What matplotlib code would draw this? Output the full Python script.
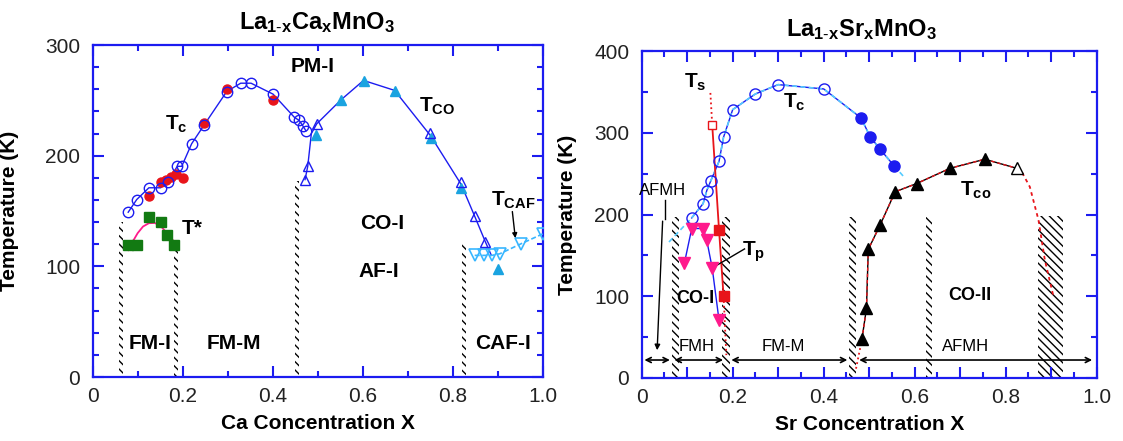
import matplotlib
matplotlib.use('Agg')
import matplotlib.pyplot as plt
from matplotlib.patches import Rectangle
from matplotlib.ticker import MultipleLocator, FixedLocator, FixedFormatter

plt.rcParams['font.family'] = ['Liberation Sans', 'DejaVu Sans']
plt.rcParams['mathtext.fontset'] = 'custom'
plt.rcParams['mathtext.rm'] = 'Liberation Sans'
plt.rcParams['mathtext.bf'] = 'Liberation Sans:bold'
plt.rcParams['mathtext.it'] = 'Liberation Sans:italic'
plt.rcParams['hatch.linewidth'] = 1.0

# ---------------- La1-xCaxMnO3 ----------------
ca_tc_open_x = [0.079, 0.098, 0.125, 0.151, 0.167, 0.188, 0.198, 0.220, 0.248, 0.298, 0.329, 0.352, 0.401, 0.448, 0.459, 0.467, 0.474]
ca_tc_open_t = [148.9, 160.4, 171.0, 171.0, 176.0, 190.4, 190.4, 210.8, 227.9, 258.0, 265.5, 265.5, 255.6, 234.8, 231.8, 227.0, 222.5]
ca_tc_fill_x = [0.125, 0.151, 0.163, 0.175, 0.185, 0.200, 0.248, 0.298, 0.401]
ca_tc_fill_t = [164.0, 176.0, 178.4, 180.8, 183.5, 180.0, 229.4, 260.0, 250.5]
ca_tco_line_x = [0.472, 0.478, 0.486, 0.498, 0.552, 0.602, 0.671, 0.751, 0.819, 0.849, 0.873, 0.886]
ca_tco_line_t = [178.4, 190.4, 220.0, 228.8, 250.5, 268.0, 259.0, 218.0, 174.0, 145.3, 121.9, 110.0]
ca_tco_open_x = [0.472, 0.478, 0.498, 0.750, 0.819, 0.849, 0.873]
ca_tco_open_t = [178.4, 190.4, 228.8, 220.4, 176.0, 145.3, 121.9]
ca_tco_fill_x = [0.496, 0.552, 0.602, 0.671, 0.752, 0.819, 0.901]
ca_tco_fill_t = [219.0, 250.5, 267.9, 258.9, 215.9, 171.0, 97.9]
ca_tcaf_x = [0.849, 0.869, 0.887, 0.905, 0.952, 1.000]
ca_tcaf_t = [109.9, 109.9, 109.9, 111.4, 120.4, 129.3]
ca_tstar_x = [0.079, 0.098, 0.125, 0.151, 0.165, 0.181]
ca_tstar_t = [119.0, 119.0, 144.5, 140.0, 128.5, 119.7]
ca_tstar_curve_x = [0.079, 0.090, 0.100, 0.112, 0.125, 0.138, 0.150, 0.163, 0.175, 0.187]
ca_tstar_curve_t = [114.6, 123.0, 130.0, 136.0, 139.0, 139.2, 137.0, 131.0, 125.0, 120.0]
ca_bounds_x = [0.064, 0.185, 0.455, 0.825]
ca_bounds_top = [140.0, 117.5, 177.0, 120.5]

# ---------------- La1-xSrxMnO3 ----------------
sr_tc_open_x = [0.110, 0.135, 0.143, 0.152, 0.170, 0.180, 0.200, 0.250, 0.300, 0.400]
sr_tc_open_t = [196.0, 213.5, 229.4, 241.6, 265.3, 295.0, 328.6, 347.8, 359.2, 353.9]
sr_tc_fill_x = [0.482, 0.502, 0.524, 0.555]
sr_tc_fill_t = [318.4, 295.5, 280.0, 259.6]
sr_tc_ext_lo_x = [0.060, 0.110]
sr_tc_ext_lo_t = [166.5, 196.0]
sr_tc_ext_hi_x = [0.555, 0.579]
sr_tc_ext_hi_t = [259.6, 244.5]
sr_ts_x = [0.151, 0.155, 0.170, 0.180, 0.186]
sr_ts_t = [349.0, 310.0, 181.0, 100.0, 28.0]
sr_tp_x = [0.094, 0.110, 0.135, 0.143, 0.155, 0.170]
sr_tp_t = [141.0, 183.0, 183.0, 168.6, 134.7, 70.6]
sr_tco_x = [0.484, 0.494, 0.498, 0.524, 0.557, 0.604, 0.678, 0.754]
sr_tco_t = [47.3, 85.3, 157.5, 187.3, 228.0, 238.0, 256.8, 267.8]
sr_tco_open_x = [0.824]
sr_tco_open_t = [256.8]
sr_tail_x = [0.824, 0.835, 0.853, 0.872, 0.886, 0.905]
sr_tail_t = [256.8, 252.6, 234.0, 193.5, 144.5, 99.6]
sr_tail_lo_x = [0.471, 0.484]
sr_tail_lo_t = [11.4, 47.3]
sr_bounds_x0 = [0.066, 0.176, 0.456, 0.624]
sr_bounds_x1 = [0.083, 0.194, 0.472, 0.638]
sr_wide_x = [0.870, 0.926]
sr_arrows = [(0.006, 0.062), (0.072, 0.179), (0.197, 0.452), (0.478, 0.990)]

BLUE = '#1c1cf0'
RED = '#e8141a'
GREEN = '#127a12'
CYAN = '#1aa3e0'
LBLUE = '#38b6ff'
PINK = '#ff1a8c'

fig = plt.figure(figsize=(11.23, 4.41), dpi=100)
axL = fig.add_axes([0.0825, 0.1451, 0.4007, 0.7528])
axR = fig.add_axes([0.5714, 0.1429, 0.4052, 0.7408])


def style_axes(ax, xmaj, xmin, ymaj, ymin, xlabels, ylabels, ymax):
    ax.set_xlim(0, 1)
    ax.set_ylim(0, ymax)
    ax.xaxis.set_major_locator(FixedLocator(xmaj))
    ax.xaxis.set_major_formatter(FixedFormatter(xlabels))
    ax.xaxis.set_minor_locator(MultipleLocator(xmin))
    ax.yaxis.set_major_locator(FixedLocator(ymaj))
    ax.yaxis.set_major_formatter(FixedFormatter(ylabels))
    ax.yaxis.set_minor_locator(MultipleLocator(ymin))
    for s in ax.spines.values():
        s.set_color(BLUE)
        s.set_linewidth(1.6)
    ax.tick_params(which='both', direction='in', top=True, right=True,
                   color=BLUE, width=1.5, labelsize=15, labelcolor='#222222')
    ax.tick_params(which='major', length=8)
    ax.tick_params(which='minor', length=4.5)
    ax.tick_params(axis='x', which='both', pad=7)
    ax.tick_params(axis='y', which='both', pad=9)


style_axes(axL, [0, 0.2, 0.4, 0.6, 0.8, 1.0], 0.1, [0, 100, 200, 300], 20,
           ['0', '0.2', '0.4', '0.6', '0.8', '1.0'], ['0', '100', '200', '300'], 300)
style_axes(axR, [0, 0.1, 0.2, 0.3, 0.4, 0.5, 0.6, 0.7, 0.8, 0.9, 1.0], 0.05,
           [0, 100, 200, 300, 400], 50,
           ['0', '', '0.2', '', '0.4', '', '0.6', '', '0.8', '', '1.0'],
           ['0', '100', '200', '300', '400'], 400)

# ---------- left panel ----------
ax = axL
for bx, top in zip(ca_bounds_x, ca_bounds_top):
    ax.add_patch(Rectangle((bx - 0.0045, 0), 0.009, top, facecolor='none',
                           edgecolor='black', hatch='\\\\\\\\', linewidth=0, zorder=1))
ax.plot(ca_tstar_curve_x, ca_tstar_curve_t, color=PINK, lw=1.3, zorder=2)
ax.plot(ca_tstar_x, ca_tstar_t, 's', color=GREEN, ms=6.5, zorder=3)
ax.plot(ca_tc_open_x, ca_tc_open_t, '-', color=BLUE, lw=1.0, zorder=2)
ax.plot(ca_tc_fill_x, ca_tc_fill_t, 'o', color=RED, ms=6.5, zorder=3)
ax.plot(ca_tc_open_x, ca_tc_open_t, 'o', mfc='none', mec=BLUE, ms=7.5, mew=1.0, zorder=4)
ax.plot(ca_tco_line_x, ca_tco_line_t, '-', color=BLUE, lw=1.0, zorder=2)
ax.plot(ca_tco_fill_x, ca_tco_fill_t, '^', color=CYAN, ms=7, zorder=3)
ax.plot(ca_tco_open_x, ca_tco_open_t, '^', mfc='none', mec=BLUE, ms=7.5, mew=1.0, zorder=4)
ax.plot(ca_tcaf_x, ca_tcaf_t, 'v', ls='--', color=LBLUE, mfc='none', mec=LBLUE,
        ms=8, mew=1.2, lw=1.2, dashes=(3, 1.5), zorder=3)

tkw = dict(ha='center', va='center', fontsize=15, fontweight='bold', color='black')
ax.text(0.488, 280.5, 'PM-I', **tkw)
ax.text(0.186, 228, r'$\mathbf{T}_{\mathbf{c}}$', **tkw)
ax.text(0.765, 245, r'$\mathbf{T}_{\mathbf{CO}}$', **tkw)
ax.text(0.935, 160, r'$\mathbf{T}_{\mathbf{CAF}}$', **tkw)
ax.annotate('', xy=(0.940, 123), xytext=(0.932, 152),
            arrowprops=dict(arrowstyle='-|>', color='black', lw=1.0, mutation_scale=7))
ax.text(0.222, 134, 'T*', **tkw)
ax.text(0.643, 138.3, 'CO-I', **tkw)
ax.text(0.635, 94.9, 'AF-I', **tkw)
ax.text(0.127, 30.5, 'FM-I', **tkw)
ax.text(0.313, 30.5, 'FM-M', **tkw)
ax.text(0.913, 30.5, 'CAF-I', **tkw)
ax.set_xlabel('Ca Concentration X', fontsize=15, fontweight='bold', labelpad=6)
ax.set_ylabel('Temperature (K)', fontsize=15, fontweight='bold')
ax.yaxis.set_label_coords(-0.164, 0.5)
fig.text(0.2826, 0.950, r'La$_{\mathbf{1\text{-}x}}$Ca$_{\mathbf{x}}$MnO$_{\mathbf{3}}$',
         ha='center', va='center', fontsize=17, fontweight='bold')

# ---------- right panel ----------
ax = axR
for x0, x1 in zip(sr_bounds_x0, sr_bounds_x1):
    ax.add_patch(Rectangle((x0, 0), x1 - x0, 197, facecolor='none',
                           edgecolor='black', hatch='\\\\\\\\', linewidth=0, zorder=1))
ax.add_patch(Rectangle((sr_wide_x[0], 0), sr_wide_x[1] - sr_wide_x[0], 198, facecolor='none',
                       edgecolor='black', hatch='\\\\\\\\', linewidth=0, zorder=1))
for a, b in sr_arrows:
    ax.annotate('', xy=(b, 22), xytext=(a, 22),
                arrowprops=dict(arrowstyle='<->', color='black', lw=1.2,
                                mutation_scale=9, shrinkA=0, shrinkB=0))
# Tc
tc_x = sr_tc_open_x + sr_tc_fill_x
tc_t = sr_tc_open_t + sr_tc_fill_t
ax.plot(tc_x, tc_t, '-', color=BLUE, lw=1.0, zorder=2)
ax.plot(tc_x, tc_t, '--', color='#55ccff', lw=1.2, dashes=(3, 2), zorder=2)
ax.plot(sr_tc_ext_lo_x, sr_tc_ext_lo_t, '--', color='#55ccff', lw=1.2, dashes=(3, 2), zorder=2)
ax.plot(sr_tc_ext_hi_x, sr_tc_ext_hi_t, '--', color='#55ccff', lw=1.2, dashes=(3, 2), zorder=2)
ax.plot(sr_tc_open_x, sr_tc_open_t, 'o', mfc='none', mec=BLUE, ms=8, mew=1.0, zorder=4)
ax.plot(sr_tc_fill_x, sr_tc_fill_t, 'o', color=BLUE, ms=8, zorder=4)
# Ts
ax.plot(sr_ts_x[0:2], sr_ts_t[0:2], ':', color=RED, lw=1.3, zorder=3)
ax.plot(sr_ts_x[1:4], sr_ts_t[1:4], '-', color=RED, lw=1.3, zorder=3)
ax.plot(sr_ts_x[3:5], sr_ts_t[3:5], ':', color=RED, lw=1.3, zorder=3)
ax.plot(sr_ts_x[1:2], sr_ts_t[1:2], 's', mfc='white', mec=RED, ms=6, mew=1.0, zorder=5)
ax.plot(sr_ts_x[2:4], sr_ts_t[2:4], 's', color=RED, ms=6.5, zorder=5)
# Tp
ax.plot(sr_tp_x, sr_tp_t, '-', color=BLUE, lw=1.0, zorder=2)
ax.plot(sr_tp_x, sr_tp_t, 'v', color=PINK, ms=8.5, zorder=4)
# Tco
ax.plot(sr_tail_lo_x, sr_tail_lo_t, ':', color=RED, lw=1.3, zorder=2)
ax.plot(sr_tco_x + sr_tco_open_x, sr_tco_t + sr_tco_open_t, '-', color='black', lw=1.0, zorder=2)
ax.plot(sr_tco_x + sr_tco_open_x, sr_tco_t + sr_tco_open_t, '--', color=RED, lw=1.0,
        dashes=(2.5, 2), zorder=3)
ax.plot(sr_tail_x, sr_tail_t, '--', color=RED, lw=1.3, dashes=(2, 2), zorder=2)
ax.plot(sr_tco_x, sr_tco_t, '^', color='black', ms=8.5, zorder=4)
ax.plot(sr_tco_open_x, sr_tco_open_t, '^', mfc='white', mec='black', ms=8.5, mew=1.0, zorder=4)

ax.text(0.117, 362, r'$\mathbf{T}_{\mathbf{s}}$', **tkw)
ax.text(0.336, 338, r'$\mathbf{T}_{\mathbf{c}}$', **tkw)
ax.text(0.735, 230, r'$\mathbf{T}_{\mathbf{co}}$', **tkw)
ax.text(0.245, 155, r'$\mathbf{T}_{\mathbf{p}}$', **tkw)
ax.plot([0.226, 0.155], [158, 134.7], '-', color='black', lw=1.0, zorder=3)
ax.text(0.117, 97.6, 'CO-I', ha='center', va='center', fontsize=13, fontweight='bold')
ax.text(0.722, 101, 'CO-II', ha='center', va='center', fontsize=13, fontweight='bold')
rkw = dict(ha='center', va='center', fontsize=12, color='black')
ax.text(0.045, 229, 'AFMH', **rkw)
ax.text(0.121, 38, 'FMH', **rkw)
ax.text(0.311, 38, 'FM-M', **rkw)
ax.text(0.711, 38, 'AFMH', **rkw)
ax.plot([0.051, 0.051], [218, 195], '-', color='black', lw=1.0)
ax.annotate('', xy=(0.034, 34), xytext=(0.046, 192),
            arrowprops=dict(arrowstyle='-|>', color='black', lw=1.0, mutation_scale=8,
                            shrinkA=0, shrinkB=0))
ax.set_xlabel('Sr Concentration X', fontsize=15, fontweight='bold', labelpad=6)
ax.set_ylabel('Temperature (K)', fontsize=15, fontweight='bold')
ax.yaxis.set_label_coords(-0.142, 0.5)
fig.text(0.767, 0.932, r'La$_{\mathbf{1\text{-}x}}$Sr$_{\mathbf{x}}$MnO$_{\mathbf{3}}$',
         ha='center', va='center', fontsize=17, fontweight='bold')

fig.savefig('out.png', dpi=100)
